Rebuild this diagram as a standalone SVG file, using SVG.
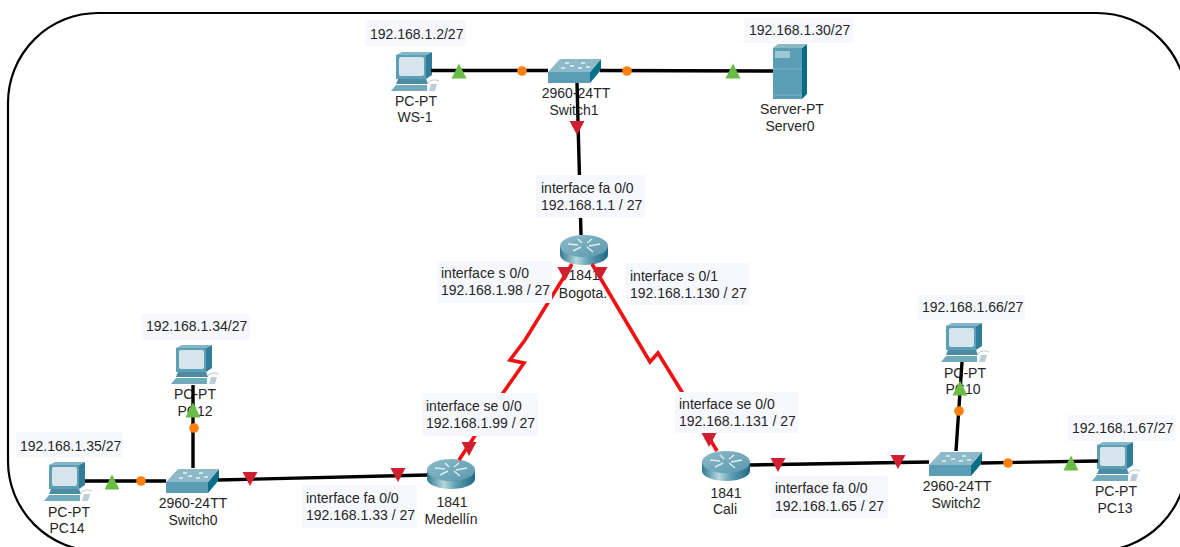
<svg xmlns="http://www.w3.org/2000/svg" xmlns:xlink="http://www.w3.org/1999/xlink" width="1180" height="547" viewBox="0 0 1180 547">
<style>
text{font-family:"Liberation Sans",Arial,sans-serif;font-size:14px;fill:#262626}
.c{text-anchor:middle}
.bg{fill:#f7f8fe}
.eth{fill:none;stroke:#000;stroke-width:3.4}
.ser{fill:none;stroke:#f01212;stroke-width:3.6;stroke-linejoin:miter}
.dot{fill:#ff7f10}
</style>
<defs>
<linearGradient id="rb" x1="0" x2="1" y1="0" y2="0"><stop offset="0" stop-color="#2f7a92"/><stop offset=".35" stop-color="#b6d6de"/><stop offset=".6" stop-color="#5f9fb3"/><stop offset="1" stop-color="#1d6a84"/></linearGradient>
<linearGradient id="rt" x1="0" x2="1" y1="0" y2="1"><stop offset="0" stop-color="#8dbccb"/><stop offset="1" stop-color="#5b97ad"/></linearGradient>
<g id="pc">
<polygon points="35,3 41,0 41,23 35,27" fill="#2f7d96"/>
<polygon points="5,3 11,0 41,0 35,3" fill="#82b6c8"/>
<rect x="5" y="3" width="30" height="24" fill="#5e9fb5"/>
<rect x="8" y="5" width="25" height="19" rx="2" fill="#d6e5ec"/>
<polygon points="7,27 35,27 37,32 5,32" fill="#4c8ba3"/>
<polygon points="5,33 36,33 36,39 0,39" fill="#6faabd"/>
<path d="M36 31Q42 26 48 29" fill="none" stroke="#b8c8cf" stroke-width="1"/>
<path d="M38 39L40 32 46 32 44 39Z" fill="#b9ced6"/>
</g>
<polygon id="gu" points="0,-7.5 7.5,7.5 -7.5,7.5" fill="#69bd45"/>
<polygon id="rd" points="-7.5,-7 7.5,-7 0,7" fill="#d02030"/>
<g id="sw">
<polygon points="42,14 53,1 53,12 42,25" fill="#0b6f8a"/>
<polygon points="0,14 12,1 53,1 42,14" fill="#8db9c8"/>
<rect x="0" y="14" width="42" height="11" fill="#5b9db5"/>
<path d="M17 5h4M33 5h4M13 10h4M30 10h4M22 8h4M38 9h4" stroke="#e6f2f5" stroke-width="1.4"/>
</g>
<g id="rt0">
<path d="M0 11V20A24 10 0 0 0 48 20V11Z" fill="url(#rb)"/>
<ellipse cx="24" cy="11" rx="24" ry="11" fill="url(#rt)"/>
<path d="M8 9L18 10M40 9L29 11M13 16L21 12M33 17L27 12M18 4L22 8M32 4L27 8" stroke="#dcecf1" stroke-width="1.5" fill="none"/>
</g>
<g id="srv">
<polygon points="29,4 34,0 34,50 29,55" fill="#0b6a85"/>
<polygon points="0,4 5,0 34,0 29,4" fill="#8ab8c6"/>
<rect x="0" y="4" width="29" height="51" fill="#5b9db5"/>
<rect x="2" y="7" width="15" height="7" fill="#9cc7d3"/>
<path d="M0 25H29M0 51H29" stroke="#7fb3c4" stroke-width="1"/>
</g>
</defs>

<rect id="frame" x="8" y="13" width="1179" height="538" rx="90" ry="90" fill="#fff" stroke="#000" stroke-width="2.2"/>

<g id="node-ws1"><use href="#pc" x="391" y="52"/><text class="c" x="416" y="106">PC-PT</text><text class="c" x="415" y="122">WS-1</text></g>
<g id="node-switch1"><use href="#sw" x="548" y="58"/><text class="c" x="576" y="98">2960-24TT</text><text class="c" x="574" y="115">Switch1</text></g>
<g id="node-server0"><use href="#srv" x="773" y="44"/><text class="c" x="792" y="114">Server-PT</text><text class="c" x="790" y="131">Server0</text></g>
<g id="node-bogota"><use href="#rt0" x="560" y="235"/><text class="c" x="584" y="280">1841</text><text class="c" x="583" y="298">Bogota.</text></g>
<g id="node-medellin"><use href="#rt0" x="427" y="459"/><text class="c" x="452" y="507">1841</text><text class="c" x="451" y="524">Medellín</text></g>
<g id="node-cali"><use href="#rt0" x="702" y="451"/><text class="c" x="726" y="498">1841</text><text class="c" x="725" y="514">Cali</text></g>
<g id="node-pc14"><use href="#pc" x="44" y="462"/><text class="c" x="69" y="517">PC-PT</text><text class="c" x="67" y="533">PC14</text></g>
<g id="node-pc12"><use href="#pc" x="171" y="345"/><text class="c" x="195" y="399">PC-PT</text><text class="c" x="195" y="416">PC12</text></g>
<g id="node-switch0"><use href="#sw" x="166" y="468"/><text class="c" x="193" y="508">2960-24TT</text><text class="c" x="193" y="525">Switch0</text></g>
<g id="node-pc10"><use href="#pc" x="941" y="323"/><text class="c" x="965" y="378">PC-PT</text><text class="c" x="963" y="394">PC10</text></g>
<g id="node-switch2"><use href="#sw" x="929" y="451"/><text class="c" x="957" y="491">2960-24TT</text><text class="c" x="956" y="508">Switch2</text></g>
<g id="node-pc13"><use href="#pc" x="1092" y="442"/><text class="c" x="1116" y="496">PC-PT</text><text class="c" x="1115" y="513">PC13</text></g>

<g id="connectors">
<path class="eth" d="M431 70.500H548M600 70.500L773 71"/>
<path class="eth" d="M577 83L581 235"/>
<path class="eth" d="M85 481H166M193 385V468M218 480L427 475"/>
<path class="eth" d="M750 465L929 462M981 463L1098 461M956 451L962 362"/>
<path class="ser" d="M459 460L503 393L524 363L510 360L525 340L572 264"/>
<path class="ser" d="M717 451L682 392L658 353L650 362L637 340L592 264"/>
<use href="#gu" x="459" y="71"/><circle class="dot" cx="522" cy="71" r="4.800"/>
<circle class="dot" cx="627" cy="71" r="4.800"/><use href="#gu" x="733" y="71"/>
<use href="#rd" x="577" y="128"/>
<use href="#rd" x="565" y="274"/><use href="#rd" x="600" y="274"/>
<use href="#rd" x="469" y="449"/><use href="#rd" x="709" y="440"/>
<use href="#gu" x="112" y="482"/><circle class="dot" cx="141" cy="481" r="4.800"/>
<use href="#gu" x="193" y="410"/><circle class="dot" cx="194" cy="428" r="4.800"/>
<use href="#rd" x="250" y="479"/><use href="#rd" x="398" y="475"/>
<use href="#rd" x="778" y="465"/><use href="#rd" x="898" y="462"/>
<circle class="dot" cx="1008" cy="463" r="4.800"/><use href="#gu" x="1071" y="463"/>
<use href="#gu" x="960" y="388"/><circle class="dot" cx="959" cy="411" r="4.800"/>
</g>

<g id="labels">
<rect class="bg" x="365" y="20" width="101" height="26"/><text x="370" y="39">192.168.1.2/27</text>
<rect class="bg" x="744" y="18" width="109" height="25"/><text x="749" y="35">192.168.1.30/27</text>
<rect class="bg" x="141" y="314" width="109" height="26"/><text x="146" y="331">192.168.1.34/27</text>
<rect class="bg" x="16" y="432" width="107" height="26"/><text x="20" y="451">192.168.1.35/27</text>
<rect class="bg" x="917" y="295" width="108" height="25"/><text x="922" y="312">192.168.1.66/27</text>
<rect class="bg" x="1068" y="415" width="107" height="26"/><text x="1072" y="433">192.168.1.67/27</text>
<rect class="bg" x="536" y="175" width="109" height="43"/><text x="541" y="193">interface fa 0/0</text><text x="541" y="210">192.168.1.1 / 27</text>
<rect class="bg" x="437" y="261" width="115" height="42"/><text x="441" y="278">interface s 0/0</text><text x="441" y="295">192.168.1.98 / 27</text>
<rect class="bg" x="626" y="263" width="123" height="42"/><text x="630" y="281">interface s 0/1</text><text x="630" y="298">192.168.1.130 / 27</text>
<rect class="bg" x="422" y="393" width="116" height="43"/><text x="426" y="411">interface se 0/0</text><text x="426" y="428">192.168.1.99 / 27</text>
<rect class="bg" x="675" y="392" width="123" height="41"/><text x="679" y="409">interface se 0/0</text><text x="679" y="426">192.168.1.131 / 27</text>
<rect class="bg" x="302" y="485" width="115" height="43"/><text x="306" y="503">interface fa 0/0</text><text x="306" y="520">192.168.1.33 / 27</text>
<rect class="bg" x="771" y="476" width="117" height="42"/><text x="775" y="493">interface fa 0/0</text><text x="775" y="511">192.168.1.65 / 27</text>
</g>
</svg>
